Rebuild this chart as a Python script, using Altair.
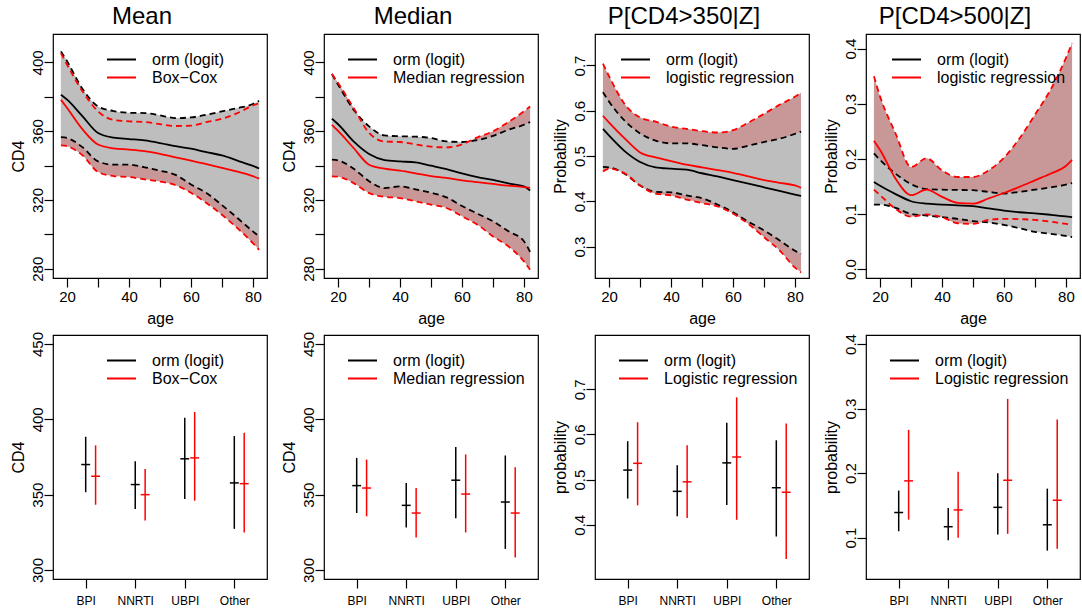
import altair as alt
import pandas as pd

FONT = "Liberation Sans"
W, H = 214, 244
GREY = "#BEBEBE"
ROSY = "#C89797"

AGES = [18, 20, 25, 30, 35, 40, 45, 50, 55, 60, 65, 70, 75, 80, 82]

# ---- Panel 1: Mean (orm vs Box-Cox) ----
mean_orm_est = [381.2, 378.3, 368.6, 358.9, 356.2, 355.4, 354.6, 353.1, 351.3, 349.8, 347.8, 345.9, 342.9, 339.8, 338.3]
mean_orm_lo = [356.5, 356.0, 350.6, 342.4, 340.5, 340.5, 339.0, 337.0, 334.6, 329.0, 324.0, 317.0, 309.5, 301.7, 298.8]
mean_orm_hi = [406.4, 400.6, 384.5, 374.4, 371.7, 370.7, 370.5, 369.2, 367.6, 368.0, 369.6, 371.5, 373.4, 375.8, 377.7]
mean_oth_est = [378.3, 373.5, 361.0, 352.2, 350.0, 349.3, 348.4, 346.8, 344.8, 342.8, 340.8, 338.6, 336.4, 333.8, 332.4]
mean_oth_lo = [351.7, 351.2, 345.9, 336.2, 333.9, 333.3, 332.0, 330.7, 328.6, 324.2, 318.2, 311.4, 303.6, 294.9, 291.0]
mean_oth_hi = [405.4, 398.6, 383.1, 371.5, 366.5, 365.7, 365.3, 364.1, 363.0, 363.2, 365.3, 367.2, 370.5, 374.9, 376.3]

# ---- Panel 2: Median (orm vs median regression) ----
med_orm_est = [367.2, 364.0, 354.0, 346.7, 343.2, 342.4, 341.8, 339.9, 337.9, 335.4, 333.3, 331.6, 329.6, 327.9, 325.5]
med_orm_lo = [343.4, 343.0, 338.2, 330.9, 326.9, 327.9, 326.1, 324.2, 321.5, 316.5, 312.0, 307.6, 301.8, 296.0, 289.8]
med_orm_hi = [393.2, 387.0, 372.5, 362.8, 357.5, 357.0, 356.8, 356.0, 354.0, 353.7, 354.8, 357.2, 360.8, 363.7, 365.3]
med_oth_est = [363.7, 360.1, 350.2, 340.5, 338.2, 337.0, 335.5, 333.9, 332.8, 331.4, 330.3, 329.3, 328.3, 327.5, 327.0]
med_oth_lo = [333.7, 333.5, 329.8, 324.0, 321.8, 321.1, 319.2, 317.3, 315.3, 310.5, 305.6, 298.8, 293.0, 284.3, 279.4]
med_oth_hi = [393.2, 388.0, 373.5, 359.0, 354.0, 353.7, 352.3, 351.0, 350.6, 352.3, 356.4, 359.9, 365.3, 371.5, 374.4]

# ---- Panel 3: P[CD4>350|Z] ----
p350_orm_est = [0.560, 0.545, 0.511, 0.487, 0.475, 0.472, 0.470, 0.462, 0.455, 0.447, 0.439, 0.431, 0.423, 0.415, 0.412]
p350_orm_lo = [0.476, 0.475, 0.461, 0.435, 0.421, 0.420, 0.413, 0.407, 0.393, 0.376, 0.355, 0.336, 0.314, 0.291, 0.284]
p350_orm_hi = [0.641, 0.620, 0.578, 0.550, 0.534, 0.528, 0.528, 0.524, 0.519, 0.516, 0.523, 0.531, 0.538, 0.549, 0.554]
p350_oth_est = [0.589, 0.574, 0.539, 0.508, 0.497, 0.489, 0.481, 0.475, 0.469, 0.463, 0.455, 0.447, 0.441, 0.435, 0.430]
p350_oth_lo = [0.466, 0.472, 0.462, 0.435, 0.417, 0.413, 0.404, 0.396, 0.389, 0.373, 0.350, 0.321, 0.292, 0.254, 0.243]
p350_oth_hi = [0.704, 0.676, 0.615, 0.585, 0.576, 0.565, 0.560, 0.555, 0.552, 0.557, 0.574, 0.593, 0.613, 0.631, 0.640]

# ---- Panel 4: P[CD4>500|Z] ----
p500_orm_est = [0.158, 0.151, 0.136, 0.123, 0.1185, 0.117, 0.1155, 0.114, 0.110, 0.106, 0.103, 0.101, 0.0985, 0.0955, 0.094]
p500_orm_lo = [0.117, 0.117, 0.111, 0.100, 0.097, 0.094, 0.091, 0.087, 0.0845, 0.080, 0.074, 0.0675, 0.064, 0.060, 0.058]
p500_orm_hi = [0.210, 0.198, 0.173, 0.154, 0.145, 0.144, 0.1435, 0.143, 0.140, 0.137, 0.140, 0.144, 0.148, 0.153, 0.156]
p500_oth_est = [0.233, 0.216, 0.164, 0.134, 0.144, 0.131, 0.120, 0.1185, 0.128, 0.138, 0.149, 0.161, 0.173, 0.187, 0.198]
p500_oth_lo = [0.144, 0.134, 0.109, 0.095, 0.099, 0.094, 0.083, 0.082, 0.089, 0.091, 0.0905, 0.089, 0.086, 0.082, 0.081]
p500_oth_hi = [0.350, 0.313, 0.246, 0.185, 0.201, 0.179, 0.167, 0.167, 0.179, 0.202, 0.237, 0.280, 0.325, 0.383, 0.410]

# ---- Bottom row: by drug class ----
DRUGS = ["BPI", "NNRTI", "UBPI", "Other"]

mean_drug_orm_est = [370.0, 356.7, 373.8, 357.8]
mean_drug_orm_lo = [351.6, 340.4, 347.1, 327.3]
mean_drug_orm_hi = [388.4, 372.2, 401.1, 388.9]
mean_drug_oth_est = [362.2, 350.0, 374.4, 357.3]
mean_drug_oth_lo = [343.3, 332.9, 346.0, 324.9]
mean_drug_oth_hi = [382.7, 367.1, 404.9, 391.1]

med_drug_orm_est = [356.0, 342.9, 359.6, 345.1]
med_drug_orm_lo = [337.8, 328.2, 334.4, 314.0]
med_drug_orm_hi = [374.4, 357.8, 381.6, 376.0]
med_drug_oth_est = [354.4, 337.8, 350.4, 337.8]
med_drug_oth_lo = [335.6, 321.6, 324.9, 308.2]
med_drug_oth_hi = [373.3, 354.4, 376.7, 368.2]

p350_drug_orm_est = [0.521, 0.474, 0.537, 0.482]
p350_drug_orm_lo = [0.458, 0.419, 0.444, 0.374]
p350_drug_orm_hi = [0.585, 0.532, 0.626, 0.587]
p350_drug_oth_est = [0.536, 0.495, 0.550, 0.472]
p350_drug_oth_lo = [0.443, 0.415, 0.411, 0.324]
p350_drug_oth_hi = [0.627, 0.576, 0.682, 0.624]

p500_drug_orm_est = [0.139, 0.117, 0.147, 0.120]
p500_drug_orm_lo = [0.110, 0.096, 0.105, 0.080]
p500_drug_orm_hi = [0.173, 0.146, 0.200, 0.176]
p500_drug_oth_est = [0.188, 0.143, 0.189, 0.158]
p500_drug_oth_lo = [0.128, 0.100, 0.106, 0.083]
p500_drug_oth_hi = [0.267, 0.202, 0.315, 0.283]

ORM = "orm (logit)"

TOP = [
    dict(title="Mean", ytitle="CD4", other="Box\u2212Cox", dom=[274.6, 416.5],
         yvals=[280, 300, 320, 340, 360, 380, 400], ylab="datum.value % 40 == 0 ? datum.label : ''",
         fmt="d", lx=60,
         est=(mean_orm_est, mean_oth_est), lo=(mean_orm_lo, mean_oth_lo), hi=(mean_orm_hi, mean_oth_hi)),
    dict(title="Median", ytitle="CD4", other="Median regression", dom=[274.6, 416.5],
         yvals=[280, 300, 320, 340, 360, 380, 400], ylab="datum.value % 40 == 0 ? datum.label : ''",
         fmt="d", lx=30,
         est=(med_orm_est, med_oth_est), lo=(med_orm_lo, med_oth_lo), hi=(med_orm_hi, med_oth_hi)),
    dict(title="P[CD4>350|Z]", ytitle="Probability", other="logistic regression", dom=[0.2307, 0.7695],
         yvals=[0.3, 0.4, 0.5, 0.6, 0.7], ylab="datum.label", fmt=".1f", lx=32,
         est=(p350_orm_est, p350_oth_est), lo=(p350_orm_lo, p350_oth_lo), hi=(p350_orm_hi, p350_oth_hi)),
    dict(title="P[CD4>500|Z]", ytitle="Probability", other="logistic regression", dom=[-0.0164, 0.4267],
         yvals=[0.0, 0.1, 0.2, 0.3, 0.4], ylab="datum.label", fmt=".1f", lx=32,
         est=(p500_orm_est, p500_oth_est), lo=(p500_orm_lo, p500_oth_lo), hi=(p500_orm_hi, p500_oth_hi)),
]

BOTTOM = [
    dict(ytitle="CD4", other="Box\u2212Cox", dom=[294.0, 456.0], yvals=[300, 350, 400, 450], fmt="d", lx=60,
         est=(mean_drug_orm_est, mean_drug_oth_est), lo=(mean_drug_orm_lo, mean_drug_oth_lo),
         hi=(mean_drug_orm_hi, mean_drug_oth_hi)),
    dict(ytitle="CD4", other="Median regression", dom=[294.0, 456.0], yvals=[300, 350, 400, 450], fmt="d", lx=30,
         est=(med_drug_orm_est, med_drug_oth_est), lo=(med_drug_orm_lo, med_drug_oth_lo),
         hi=(med_drug_orm_hi, med_drug_oth_hi)),
    dict(ytitle="probability", other="Logistic regression", dom=[0.28, 0.82], yvals=[0.4, 0.5, 0.6, 0.7], fmt=".1f", lx=30,
         est=(p350_drug_orm_est, p350_drug_oth_est), lo=(p350_drug_orm_lo, p350_drug_oth_lo),
         hi=(p350_drug_orm_hi, p350_drug_oth_hi)),
    dict(ytitle="probability", other="Logistic regression", dom=[0.036, 0.414], yvals=[0.1, 0.2, 0.3, 0.4], fmt=".1f", lx=30,
         est=(p500_drug_orm_est, p500_drug_oth_est), lo=(p500_drug_orm_lo, p500_drug_oth_lo),
         hi=(p500_drug_orm_hi, p500_drug_oth_hi)),
]


def legend(lx):
    return alt.Legend(
        title=None, orient="none", legendX=lx, legendY=17,
        symbolType="M-2,0H2", symbolSize=210, symbolStrokeWidth=2,
        labelFont=FONT, labelFontSize=16, labelColor="black", labelOffset=22,
        rowPadding=1, padding=0,
    )


def yaxis(p, labexpr=None):
    kw = dict(values=p["yvals"], format=p["fmt"], title=p["ytitle"], labelAngle=270,
              labelAlign="center", labelBaseline="alphabetic", labelPadding=2,
              titlePadding=4, labelOverlap=False)
    if labexpr:
        kw["labelExpr"] = labexpr
    return alt.Axis(**kw)


def top_panel(p):
    n = len(AGES)
    wide = pd.DataFrame({
        "age": AGES,
        "orm_lo": p["lo"][0], "orm_hi": p["hi"][0],
        "oth_lo": p["lo"][1], "oth_hi": p["hi"][1],
    })
    est = pd.DataFrame({
        "age": AGES * 2,
        "method": [ORM] * n + [p["other"]] * n,
        "value": list(p["est"][0]) + list(p["est"][1]),
    })
    xs = alt.Scale(domain=[15.44, 84.56], nice=False, zero=False)
    ys = alt.Scale(domain=p["dom"], nice=False, zero=False)
    xax = alt.Axis(values=list(range(20, 81, 10)),
                   labelExpr="datum.value % 20 == 0 ? datum.label : ''",
                   title="age", labelBaseline="top", labelPadding=2, titlePadding=6,
                   labelOverlap=False, labelFlush=False)
    yax = yaxis(p, p["ylab"])
    X = alt.X("age:Q", scale=xs, axis=xax)
    base = alt.Chart(wide)
    rosy = base.mark_area(color=ROSY, interpolate="monotone").encode(
        x=X, y=alt.Y("oth_lo:Q", scale=ys, axis=yax), y2="oth_hi:Q")
    grey = base.mark_area(color=GREY, interpolate="monotone").encode(
        x=X, y=alt.Y("orm_lo:Q", scale=ys, axis=yax), y2="orm_hi:Q")
    layers = [rosy, grey]
    for col, colr in [("orm_lo", "black"), ("orm_hi", "black"), ("oth_lo", "red"), ("oth_hi", "red")]:
        layers.append(base.mark_line(color=colr, strokeWidth=1.8, strokeDash=[6, 4],
                                     interpolate="monotone").encode(
            x=X, y=alt.Y(f"{col}:Q", scale=ys, axis=yax)))
    solid = alt.Chart(est).mark_line(strokeWidth=1.8, interpolate="monotone").encode(
        x=X, y=alt.Y("value:Q", scale=ys, axis=yax),
        color=alt.Color("method:N", scale=alt.Scale(domain=[ORM, p["other"]], range=["black", "red"]),
                        legend=legend(p["lx"])))
    layers.append(solid)
    return alt.layer(*layers).properties(
        width=W, height=H,
        title=alt.TitleParams(p["title"], font=FONT, fontSize=24, fontWeight="normal",
                              anchor="middle", frame="group", dx=-18, offset=-14,
                              baseline="alphabetic", color="black"))


def bottom_panel(p):
    rows = []
    for m, (name, off) in enumerate([(ORM, 0.0), (p["other"], 0.2)]):
        for i, d in enumerate(DRUGS):
            rows.append(dict(drug=d, method=name, pos=i + 1 + off,
                             est=p["est"][m][i], lo=p["lo"][m][i], hi=p["hi"][m][i]))
    df = pd.DataFrame(rows)
    label_js = "[" + ",".join(f"'{d}'" for d in DRUGS) + "][datum.value - 1]"
    xs = alt.Scale(domain=[0.34, 4.66], nice=False, zero=False)
    ys = alt.Scale(domain=p["dom"], nice=False, zero=False)
    xax = alt.Axis(values=[1, 2, 3, 4], labelExpr=label_js, title=None, labelFontSize=12,
                   labelBaseline="top", labelPadding=7, labelOverlap=False, labelFlush=False)
    yax = yaxis(p)
    col = alt.Color("method:N", scale=alt.Scale(domain=[ORM, p["other"]], range=["black", "red"]),
                    legend=legend(p["lx"]))
    base = alt.Chart(df)
    vert = base.mark_rule(strokeWidth=1.5).encode(
        x=alt.X("pos:Q", scale=xs, axis=xax),
        y=alt.Y("lo:Q", scale=ys, axis=yax), y2="hi:Q", color=col)
    tick = base.transform_calculate(a="datum.pos - 0.09", b="datum.pos + 0.09").mark_rule(
        strokeWidth=1.5).encode(
        x=alt.X("a:Q", scale=xs, axis=xax), x2="b:Q",
        y=alt.Y("est:Q", scale=ys, axis=yax), color=col)
    return alt.layer(vert, tick).properties(width=W, height=H)


panels = [top_panel(p) for p in TOP] + [bottom_panel(p) for p in BOTTOM]

chart = alt.concat(*panels, columns=4, spacing=57, bounds="flush").resolve_scale(
    x="independent", y="independent", color="independent"
).resolve_axis(x="independent", y="independent").resolve_legend(color="independent").properties(
    padding={"left": 9, "top": 4, "right": 0, "bottom": 0}
).configure_view(stroke="black", strokeWidth=1.2).configure_axis(
    labelFont=FONT, titleFont=FONT, labelFontSize=15, titleFontSize=16, titleFontWeight="normal",
    labelColor="black", titleColor="black", tickColor="black", tickSize=9, tickWidth=1.2,
    grid=False, domain=False,
)

chart.save("out.html", embed_options={"renderer": "svg", "actions": False})
